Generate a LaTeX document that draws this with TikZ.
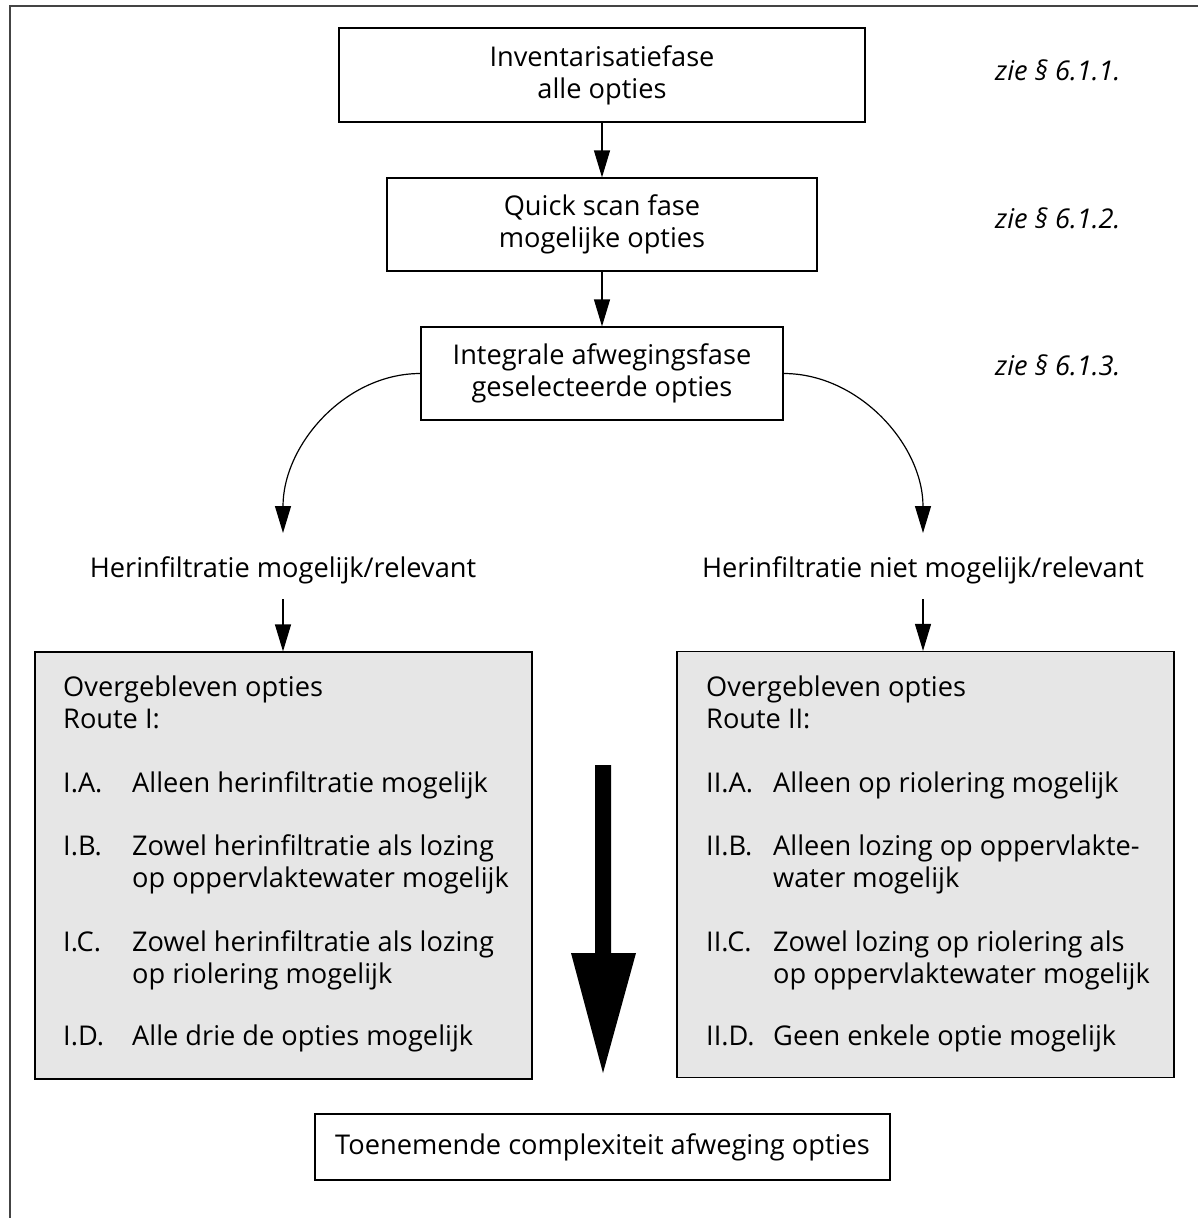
\documentclass[tikz,border=0pt]{standalone}
\usepackage{fontspec}
\setmainfont{Open Sans}
\usetikzlibrary{arrows.meta}
\definecolor{boxgray}{HTML}{E6E6E6}
\definecolor{framegray}{HTML}{444444}
\tikzset{
  phase/.style={draw, line width=1.2pt, align=center, inner sep=0pt},
  optbox/.style={draw, line width=1.2pt, fill=boxgray, inner sep=0pt},
  conn/.style={draw, line width=1.2pt, -{Triangle[length=27pt,width=16pt]}},
  ref/.style={font=\itshape, anchor=base west, inner sep=0pt},
  rlabel/.style={anchor=base, inner sep=0pt, text height=20pt, text depth=6pt},
  itemtxt/.style={anchor=base west, inner sep=0pt, align=left},
}
\begin{document}
\fontsize{27.2}{32}\selectfont
\begin{tikzpicture}[x=1pt,y=-1pt]
\useasboundingbox (0,0) rectangle (1198,1218);
\draw[framegray, line width=2pt] (10,1218) -- (10,6) -- (1198,6);
% phases
\node[phase, minimum width=526pt, minimum height=94pt] (inv) at (602,75) {Inventarisatiefase\\alle opties};
\node[phase, minimum width=430pt, minimum height=93pt] (qs) at (602,224.5) {Quick scan fase\\mogelijke opties};
\node[phase, minimum width=362pt, minimum height=93pt] (int) at (602,373.5) {Integrale afwegingsfase\\geselecteerde opties};
\node[ref] (ref1) at (995,80) {zie § 6.1.1.};
\node[ref] (ref2) at (995,228) {zie § 6.1.2.};
\node[ref] (ref3) at (995,375) {zie § 6.1.3.};
\path[conn] (inv) -- (qs);
\path[conn] (qs) -- (int);
% routes
\node[rlabel] (hl) at (283,577) {Herinfiltratie mogelijk/relevant};
\node[rlabel] (hn) at (923,577) {Herinfiltratie niet mogelijk/relevant};
\coordinate (hlin) at (283,533);
\coordinate (hnin) at (923,533);
\path[conn] (int.west) .. controls (345,373.5) and (283,445) .. (hlin);
\path[conn] (int.east) .. controls (859,373.5) and (923,445) .. (hnin);
\node[optbox, minimum width=497pt, minimum height=427pt] (routeI) at (283.5,865.5) {};
\node[optbox, minimum width=497pt, minimum height=426pt] (routeII) at (925.5,864.5) {};
\path[conn] ([yshift=-16pt]hl.south) -- (routeI.north -| hl.south);
\path[conn] ([yshift=-16pt]hn.south) -- (routeII.north -| hn.south);
% route I (multi-line nodes sit on their last line)
\node[itemtxt] (rIhead) at (63,728) {Overgebleven opties\\Route I:};
\node[itemtxt] (rIa) at (63,792) {I.A.};
\node[itemtxt] (rIatxt) at (132,792) {Alleen herinfiltratie mogelijk};
\node[itemtxt] (rIb) at (63,855) {I.B.};
\node[itemtxt] (rIbtxt) at (132,887) {Zowel herinfiltratie als lozing\\op oppervlaktewater mogelijk};
\node[itemtxt] (rIc) at (63,951) {I.C.};
\node[itemtxt] (rIctxt) at (132,983) {Zowel herinfiltratie als lozing\\op riolering mogelijk};
\node[itemtxt] (rId) at (63,1045) {I.D.};
\node[itemtxt] (rIdtxt) at (132,1045) {Alle drie de opties mogelijk};
% route II
\node[itemtxt] (rIIhead) at (706,728) {Overgebleven opties\\Route II:};
\node[itemtxt] (rIIa) at (706,792) {II.A.};
\node[itemtxt] (rIIatxt) at (773,792) {Alleen op riolering mogelijk};
\node[itemtxt] (rIIb) at (706,855) {II.B.};
\node[itemtxt] (rIIbtxt) at (773,887) {Alleen lozing op oppervlakte-\\water mogelijk};
\node[itemtxt] (rIIc) at (706,951) {II.C.};
\node[itemtxt] (rIIctxt) at (773,983) {Zowel lozing op riolering als\\op oppervlaktewater mogelijk};
\node[itemtxt] (rIId) at (706,1045) {II.D.};
\node[itemtxt] (rIIdtxt) at (773,1045) {Geen enkele optie mogelijk};
% complexity
\fill (595,765) -- (611,765) -- (611,953) -- (636,953) -- (603,1073) -- (571,953) -- (595,953) -- cycle;
\node[phase, minimum width=575pt, minimum height=66pt] (cplx) at (602.5,1147) {Toenemende complexiteit afweging opties};
\end{tikzpicture}
\end{document}
